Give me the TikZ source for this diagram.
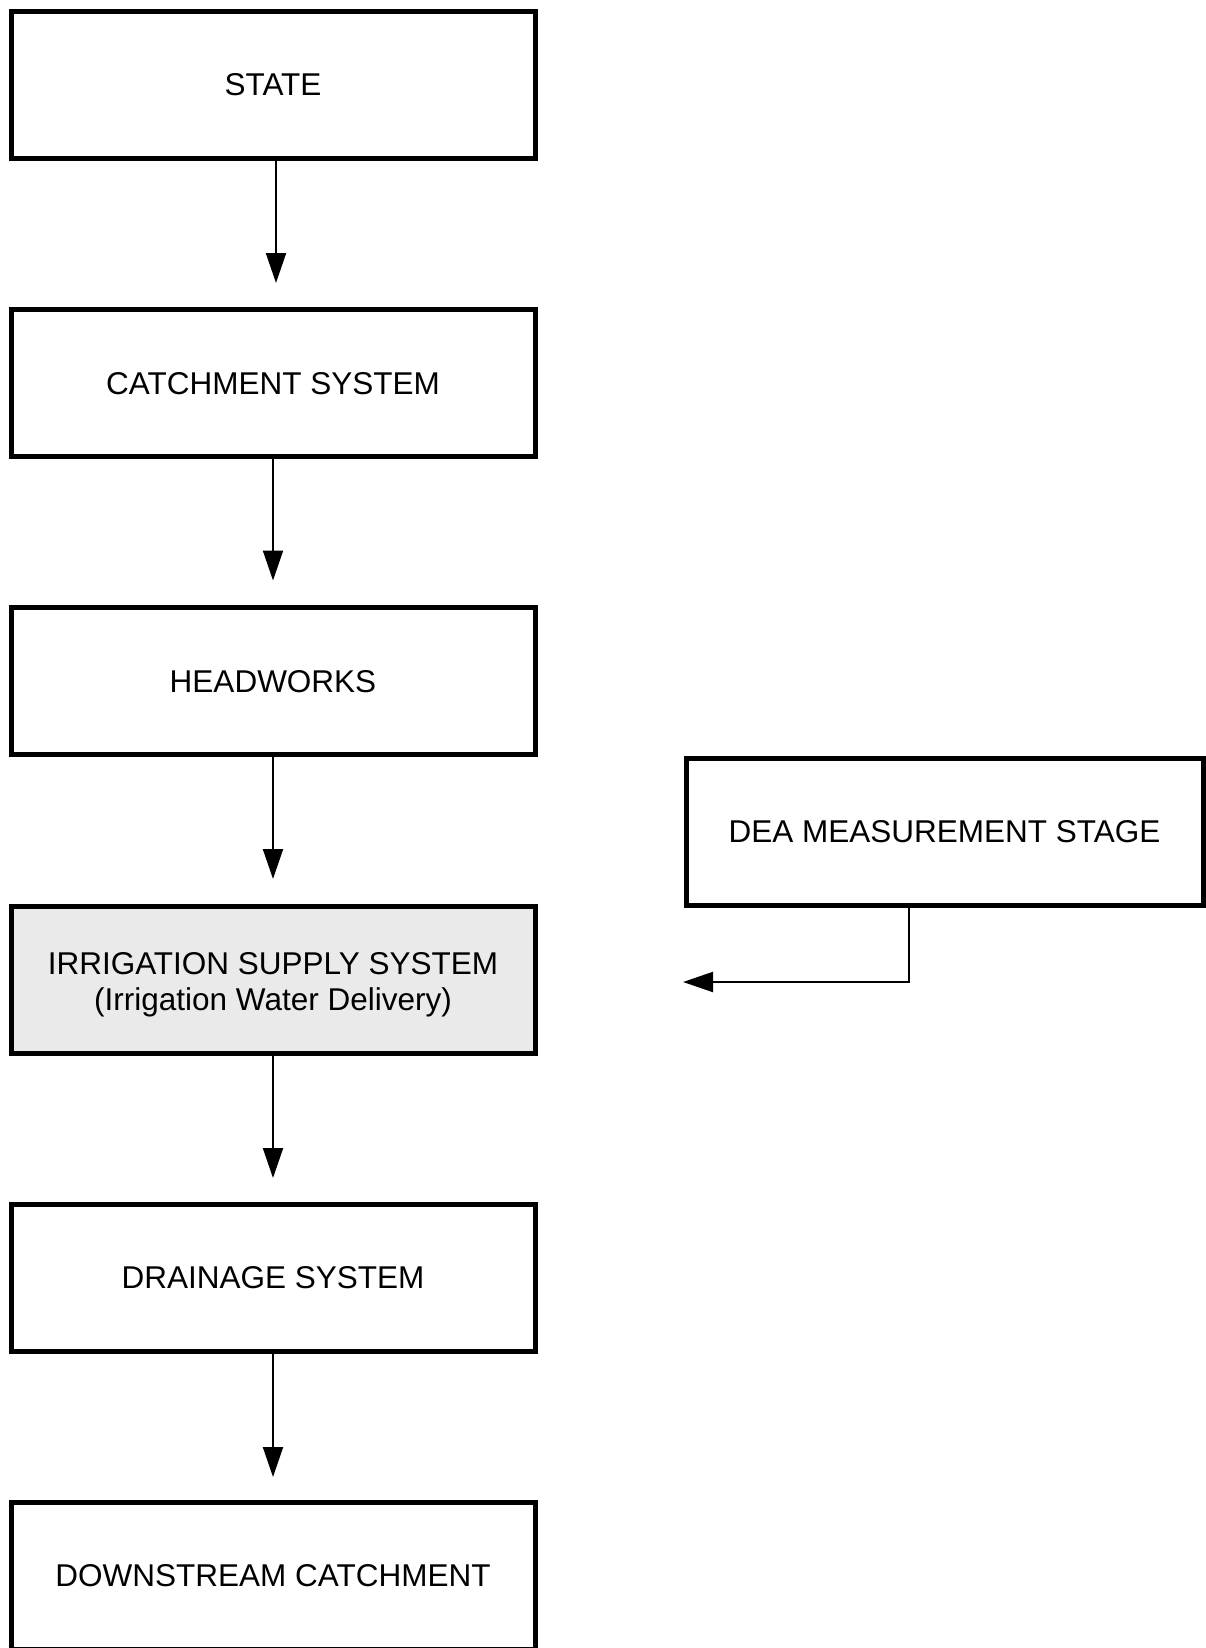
\documentclass[tikz,border=0pt]{standalone}
\usepackage{fontspec}
\setmainfont{Liberation Sans}
\usetikzlibrary{arrows.meta}
\definecolor{boxgray}{RGB}{234,234,234}
\tikzset{
  box/.style={draw=black, line width=5pt, minimum width=524pt, minimum height=147pt,
    inner sep=0pt, align=center, font=\fontsize{31.5pt}{36pt}\selectfont},
  txt/.style={inner sep=0pt, align=center, font=\fontsize{31.5pt}{36pt}\selectfont},
  arr/.style={line width=2pt, -{Triangle[length=30pt,width=20pt]}}
}
\begin{document}
\begin{tikzpicture}[x=1pt,y=-1pt]
\useasboundingbox (0,0) rectangle (1205,1648);
\node[box] (state) at (273,85) {STATE};
\node[box] (catch) at (273,383.2) {CATCHMENT SYSTEM};
\node[box] (head) at (273,681.4) {HEADWORKS};
\node[box, fill=boxgray] (irr) at (273,979.6) {};
\node[txt] (irrtext) at (273,984.5) {IRRIGATION SUPPLY SYSTEM\\(Irrigation Water Delivery)};
\node[box] (drain) at (273,1277.8) {DRAINAGE SYSTEM};
\node[box] (down) at (273,1576) {DOWNSTREAM CATCHMENT};
\node[box, minimum width=517pt] (dea) at (944.5,832) {DEA MEASUREMENT STAGE};
\coordinate (t1) at (276,283);
\coordinate (t2) at (273,580.5);
\coordinate (t3) at (273,879);
\coordinate (t4) at (273,1178);
\coordinate (t5) at (273,1477);
\coordinate (bend) at (909,982);
\coordinate (t6) at (683,982);
\draw[arr] (t1 |- state.south) -- (t1);
\draw[arr] (t2 |- catch.south) -- (t2);
\draw[arr] (t3 |- head.south) -- (t3);
\draw[arr] (t4 |- irr.south) -- (t4);
\draw[arr] (t5 |- drain.south) -- (t5);
\draw[arr] (bend |- dea.south) |- (t6);
\end{tikzpicture}
\end{document}
